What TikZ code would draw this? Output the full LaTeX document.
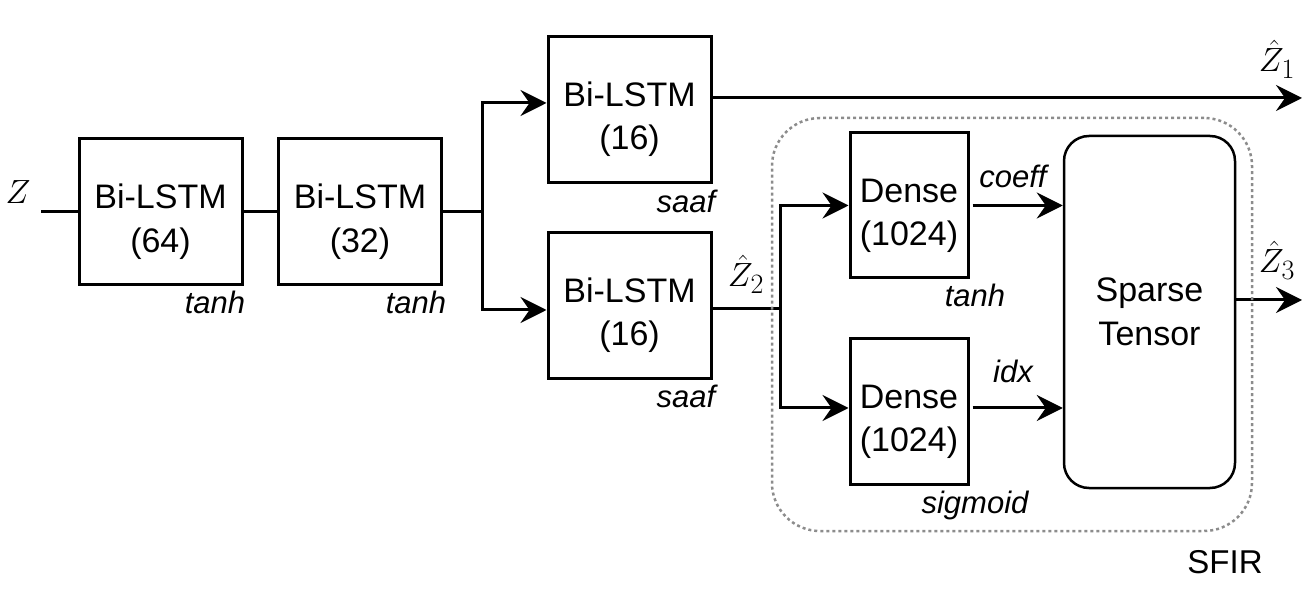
\documentclass[tikz,border=0pt]{standalone}
\usepackage{fix-cm}
\usepackage{graphicx}
\usepackage[no-math]{fontspec}
\setmainfont{Liberation Sans}
\usetikzlibrary{arrows.meta}
\definecolor{sfirgray}{RGB}{140,140,140}
\newcommand\mytopstrut{\rule{0pt}{44pt}}
\newcommand\mymath[1]{\scalebox{1.35}{$#1$}}
\begin{document}
\begin{tikzpicture}[x=1pt,y=-1pt,
  blk/.style={draw,line width=3pt,inner sep=0pt,align=center,font=\fontsize{34}{43.5}\selectfont},
  lstm/.style={blk,minimum width=163pt,minimum height=146pt},
  dense/.style={blk,minimum width=118pt,minimum height=145pt},
  lbl/.style={font=\fontsize{31}{36}\selectfont\itshape,anchor=base,inner sep=0pt},
  mlbl/.style={font=\fontsize{24.88}{30}\selectfont,anchor=base,inner sep=0pt},
  wire/.style={line width=3pt},
  arr/.style={line width=3pt,-{Stealth[length=26pt,width=26pt,inset=9pt]}},
]
\useasboundingbox (0,0) rectangle (1315,601);

% blocks
\node[lstm] (A) at (160.5,212) {\mytopstrut Bi-LSTM\\(64)};
\node[lstm] (B) at (360,212) {\mytopstrut Bi-LSTM\\(32)};
\node[lstm] (C) at (629.5,109.5) {\mytopstrut Bi-LSTM\\(16)};
\node[lstm] (D) at (629.5,305.5) {\mytopstrut Bi-LSTM\\(16)};
\node[dense] (E) at (909,205.5) {\mytopstrut Dense\\(1024)};
\node[dense] (F) at (909,411.5) {\mytopstrut Dense\\(1024)};
\node[draw,line width=2.5pt,rounded corners=25pt,minimum width=171pt,minimum height=352pt,
      align=center,inner sep=0pt,font=\fontsize{34}{43.5}\selectfont] (S) at (1149.5,312) {Sparse\\Tensor};

% free ends and junctions
\coordinate (zin) at (41,212);
\coordinate (sp1) at (482,212);
\coordinate (sp2) at (780,309);
\coordinate (o1) at (1302,98);
\coordinate (o3) at (1302,300);
\coordinate (f2) at ([yshift=3.5pt]F.east);

% connectors
\draw[wire] (zin) -- (A.west);
\draw[wire] (A.east) -- (B.west);
\draw[wire] (B.east) -- (sp1);
\draw[arr] (sp1) |- ([yshift=6.5pt]C.west);
\draw[arr] (sp1) |- ([yshift=-4.5pt]D.west);
\draw[arr] ([yshift=11.5pt]C.east) -- (o1);
\draw[wire] ([yshift=-3.5pt]D.east) -- (sp2);
\draw[arr] (sp2) |- (E.west);
\draw[arr] (sp2) |- ([yshift=3.5pt]F.west);
\draw[arr,shorten <=3pt] (E.east) -- (E.east -| S.west);
\draw[arr,shorten <=3pt] (f2) -- (f2 -| S.west);
\draw[arr] ([yshift=12pt]S.east) -- (o3);

% activation / signal labels
\node[lbl] (tA) at (215,314) {tanh};
\node[lbl] (tB) at (416,314) {tanh};
\node[lbl] (sC) at (686,213) {saaf};
\node[lbl] (sD) at (686,408) {saaf};
\node[lbl] (tE) at (975,307) {tanh};
\node[lbl] (sF) at (975,513) {sigmoid};
\node[lbl] (lc) at (1013,188) {coeff};
\node[lbl] (li) at (1013,383) {idx};

% math labels
\node[mlbl] (z0) at (18,204) {\mymath{Z}};
\node[mlbl] (z1) at (1277,72) {\mymath{\hat{Z}_1}};
\node[mlbl] (z2) at (746,287) {\mymath{\hat{Z}_2}};
\node[mlbl] (z3) at (1277,273) {\mymath{\hat{Z}_3}};

% SFIR container
\node[draw=sfirgray,line width=2.5pt,dash pattern=on 3pt off 3pt,rounded corners=48pt,
      minimum width=480pt,minimum height=413pt,inner sep=0pt] (sfir) at (1012,324.5) {};
\node[anchor=base,inner sep=0pt,font=\fontsize{33}{38}\selectfont] (sfirlbl) at (1225,573) {SFIR};
\end{tikzpicture}
\end{document}
